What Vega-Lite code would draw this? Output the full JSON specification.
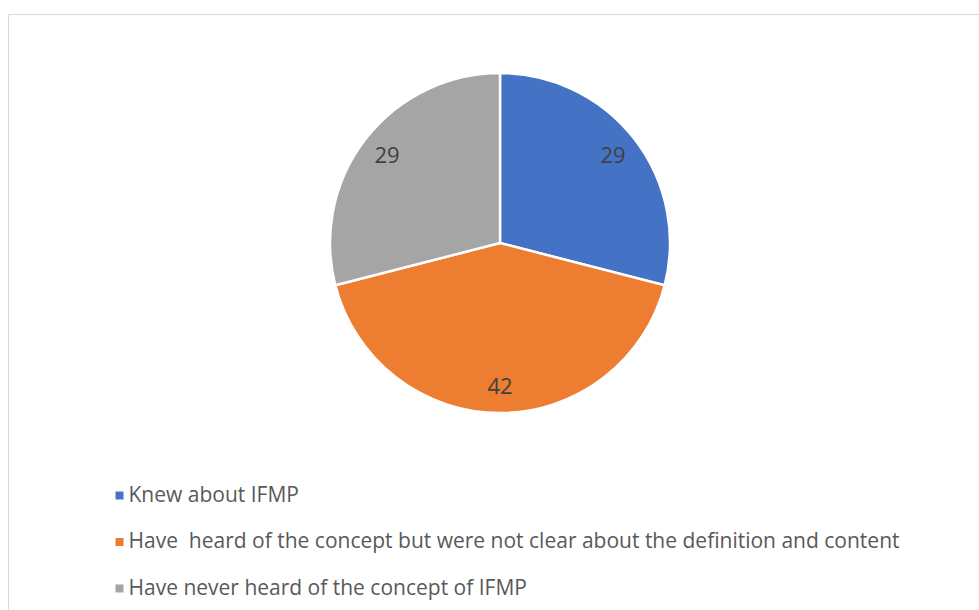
{
  "$schema": "https://vega.github.io/schema/vega-lite/v6.json",
  "autosize": {"type": "none"},
  "padding": {"left": 8, "top": 14, "right": 0, "bottom": 0},
  "width": 971,
  "height": 596,
  "background": "white",
  "view": {"stroke": "#d9d9d9", "strokeWidth": 1, "fill": "white"},
  "config": {
    "view": {"stroke": "#d9d9d9", "strokeWidth": 1},
    "font": "Open Sans"
  },
  "data": {
    "values": [
      {"group": "Knew about IFMP", "value": 29, "order": 1},
      {"group": "Have\u00a0 heard of the concept but were not clear about the definition and content", "value": 42, "order": 2},
      {"group": "Have never heard of the concept of IFMP", "value": 29, "order": 3}
    ]
  },
  "encoding": {
    "theta": {"field": "value", "type": "quantitative", "stack": true},
    "order": {"field": "order", "type": "quantitative"},
    "color": {
      "field": "group",
      "type": "nominal",
      "sort": {"field": "order"},
      "scale": {
        "domain": [
          "Knew about IFMP",
          "Have\u00a0 heard of the concept but were not clear about the definition and content",
          "Have never heard of the concept of IFMP"
        ],
        "range": ["#4472c4", "#ed7d31", "#a5a5a5"]
      },
      "legend": {
        "title": null,
        "orient": "none",
        "legendX": 101,
        "legendY": 471,
        "symbolType": "square",
        "symbolSize": 64,
        "symbolStrokeWidth": 0,
        "labelFontSize": 21,
        "labelColor": "#595959",
        "labelFont": "Open Sans",
        "labelLimit": 900,
        "rowPadding": 24.5,
        "labelOffset": -1.5
      }
    }
  },
  "layer": [
    {
      "mark": {"type": "arc", "outerRadius": 170, "stroke": "white", "strokeWidth": 2.5, "xOffset": 6.5, "yOffset": -69}
    },
    {
      "mark": {"type": "text", "radius": 143, "fontSize": 22, "font": "Open Sans", "xOffset": 6.5, "yOffset": -68},
      "encoding": {
        "text": {"field": "value", "type": "quantitative"},
        "color": {"value": "#404040"}
      }
    }
  ]
}
